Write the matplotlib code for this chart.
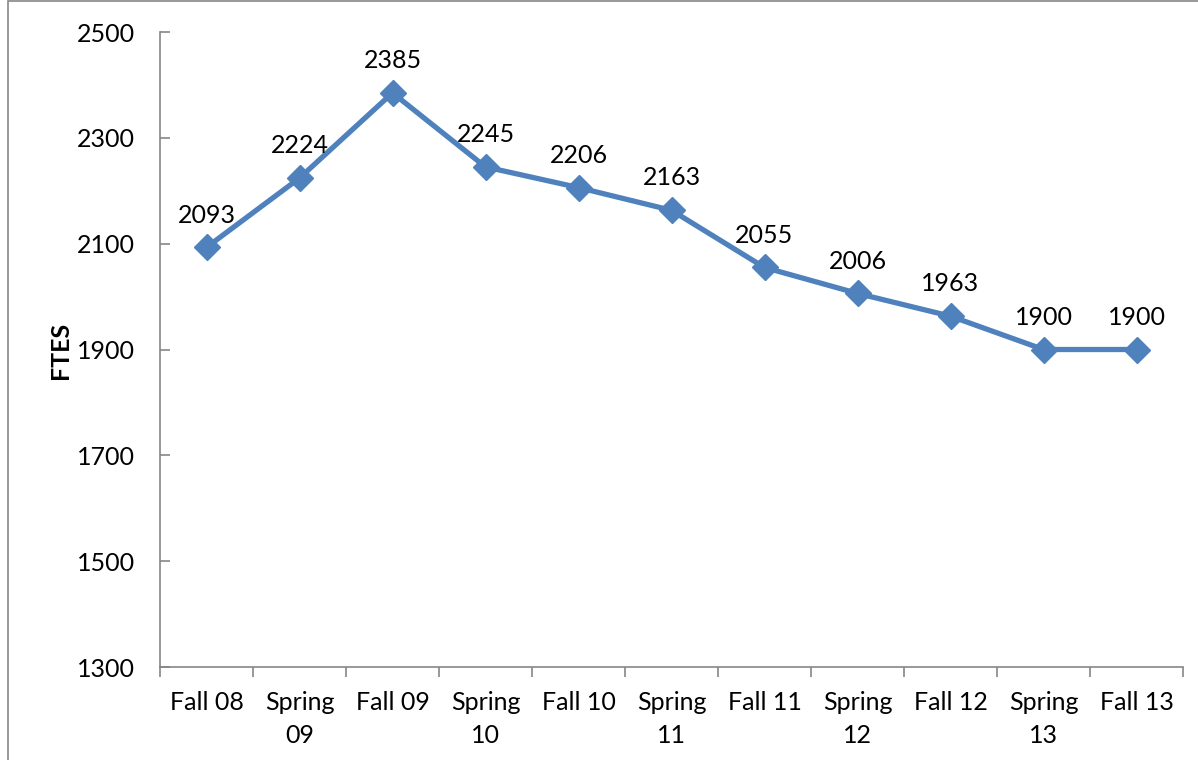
import matplotlib
matplotlib.use("Agg")
import matplotlib.pyplot as plt
from matplotlib.patches import Rectangle

plt.rcParams['font.family'] = ['Lato', 'DejaVu Sans']

terms = ['Fall 08', 'Spring\n09', 'Fall 09', 'Spring\n10', 'Fall 10', 'Spring\n11',
         'Fall 11', 'Spring\n12', 'Fall 12', 'Spring\n13', 'Fall 13']
ftes = [2093, 2224, 2385, 2245, 2206, 2163, 2055, 2006, 1963, 1900, 1900]
yticks = [1300, 1500, 1700, 1900, 2100, 2300, 2500]

W, H = 1198, 760
fig = plt.figure(figsize=(W / 100, H / 100), dpi=100)
ax = fig.add_axes([160 / W, 1 - 667 / H, (1183 - 160) / W, (667 - 32) / H])

# outer chart border (Excel style)
fig.patches.append(Rectangle((8 / W, -0.05), 1.2, 1 - 1 / H + 0.05, transform=fig.transFigure,
                             fill=False, edgecolor='#868686', linewidth=1.2))

fs = 18
x = list(range(len(terms)))
ax.plot(x, ftes, color='#4F81BD', linewidth=3.8, marker='D', markersize=13,
        markerfacecolor='#4F81BD', markeredgecolor='#4F81BD', zorder=3)
for xi, v in zip(x, ftes):
    ax.annotate(str(v), (xi, v), xytext=(0, 15), textcoords='offset points',
                ha='center', va='bottom', fontsize=fs, color='black')

ax.set_xlim(-0.5, len(terms) - 0.5)
ax.set_ylim(1300, 2500)
ax.set_yticks(yticks)
ax.set_yticklabels([str(t) for t in yticks], fontsize=fs)
ax.set_xticks([i - 0.5 for i in range(len(terms) + 1)])
ax.set_xticklabels([])
ax.set_xticks(x, minor=True)
ax.set_xticklabels(terms, minor=True, fontsize=fs, linespacing=1.55)
ax.tick_params(axis='x', which='minor', length=0, pad=17)
ax.tick_params(axis='x', which='major', direction='out', length=7, color='#868686', width=1.2)
ax.tick_params(axis='y', direction='in', length=7, color='#868686', width=1.2, pad=18)

for s in ['top', 'right']:
    ax.spines[s].set_visible(False)
for s in ['left', 'bottom']:
    ax.spines[s].set_color('#868686')
    ax.spines[s].set_linewidth(1.2)

fig.text(60 / W, 1 - 350 / H, 'FTES', rotation=90, ha='center', va='center',
         fontsize=fs, fontweight='bold')

fig.savefig('out.png', dpi=100)
